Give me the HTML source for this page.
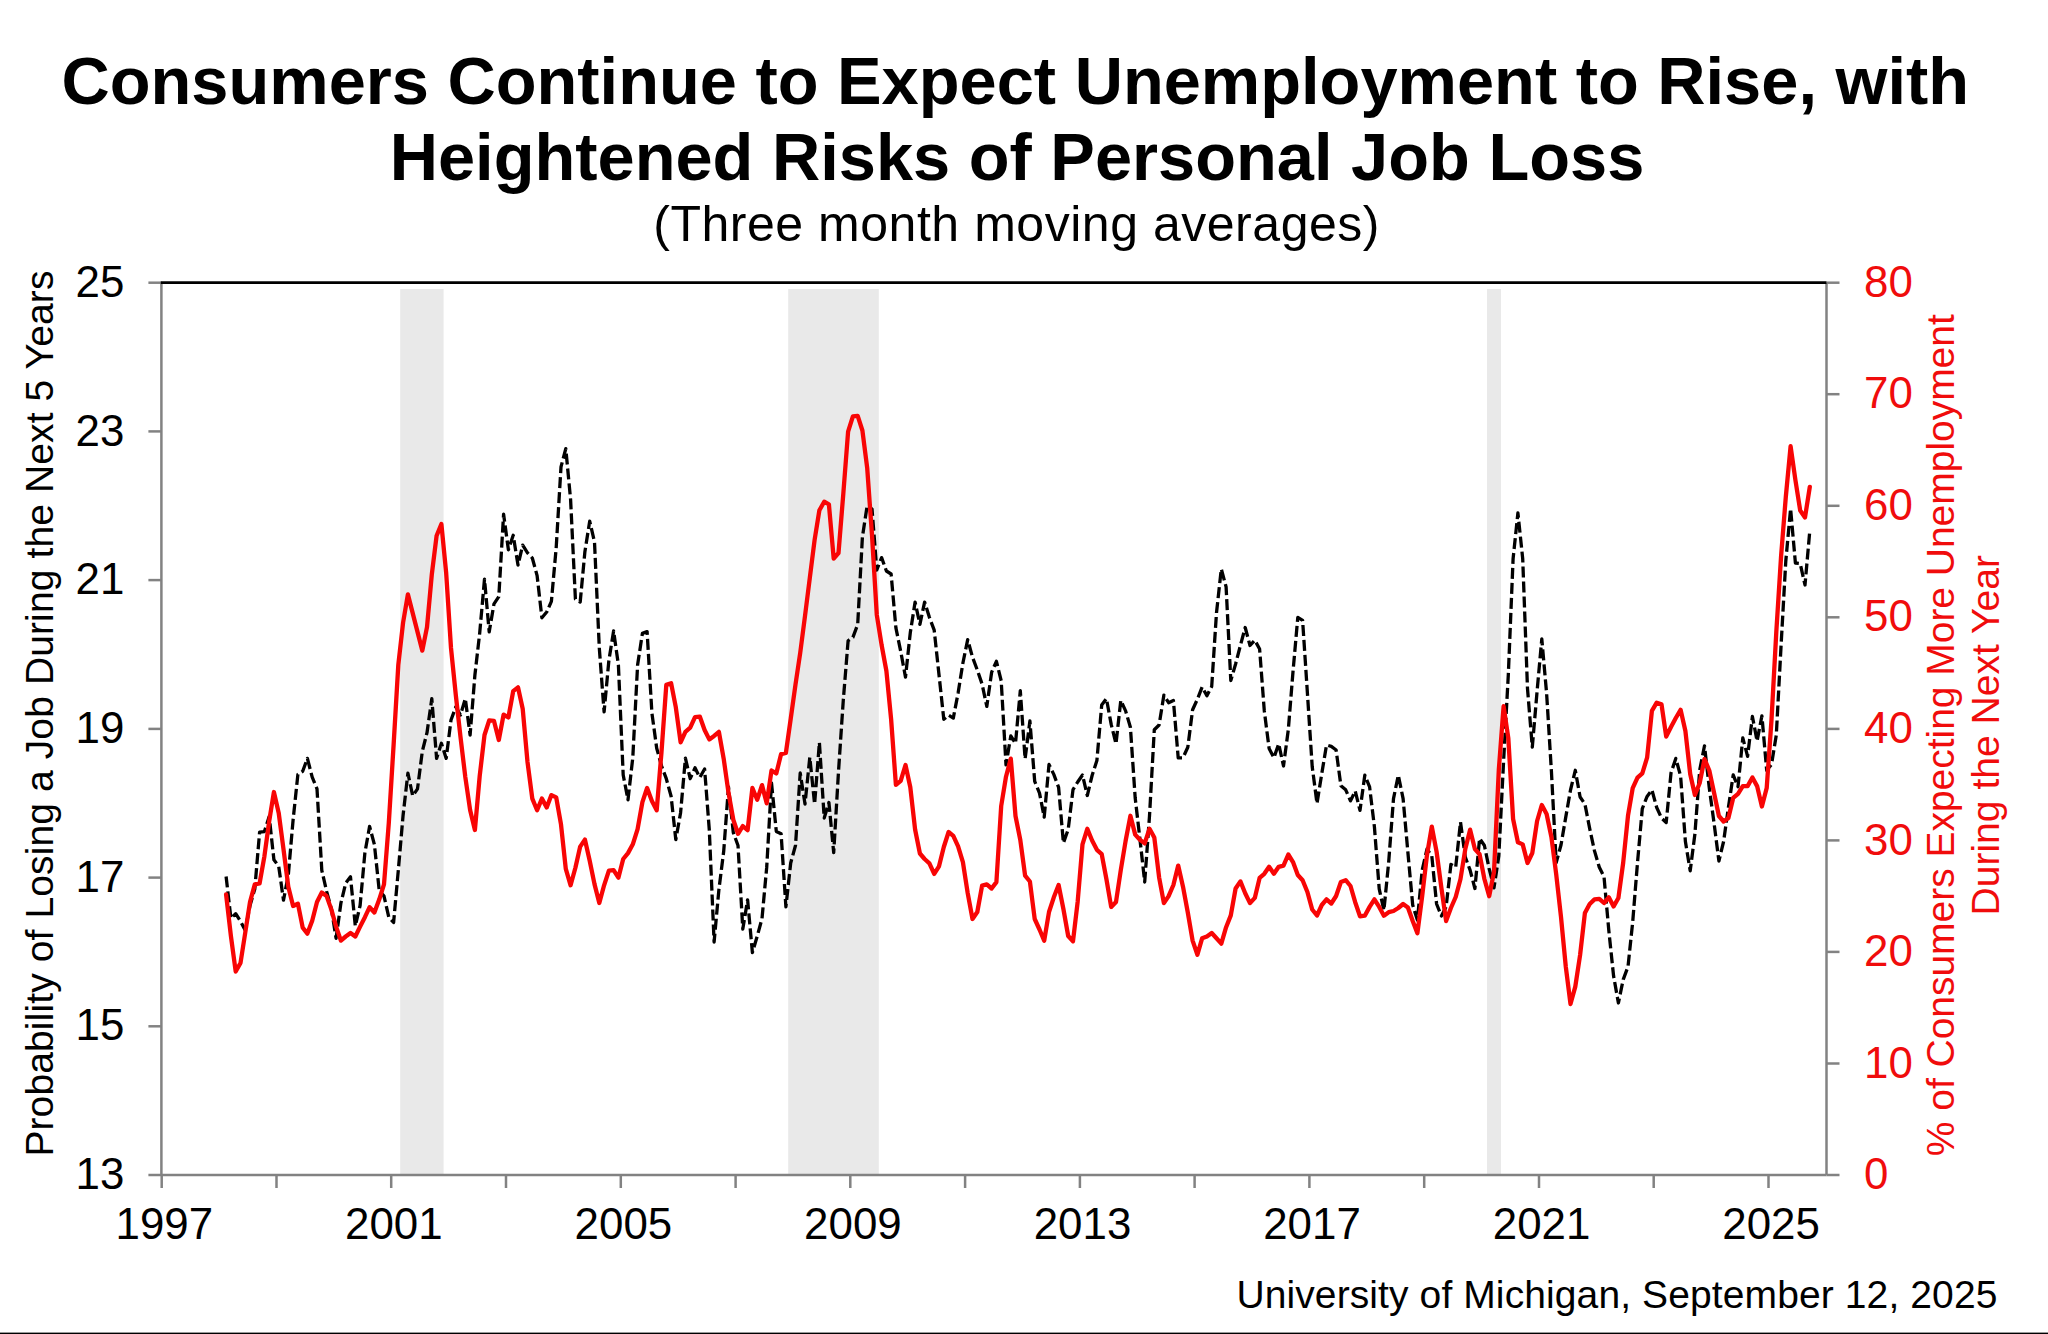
<!DOCTYPE html><html><head><meta charset="utf-8"><title>Consumers Continue to Expect Unemployment to Rise</title>
<style>html,body{margin:0;padding:0;background:#fff}body{width:2048px;height:1334px;overflow:hidden}svg{display:block}text{font-family:"Liberation Sans",Arial,Helvetica,sans-serif}</style></head><body>
<svg width="2048" height="1334" viewBox="0 0 2048 1334">
<rect width="2048" height="1334" fill="#fff"/>
<text font-size="66.8" fill="#000" font-weight="bold" text-anchor="middle" x="1015.3" y="103.5">Consumers Continue to Expect Unemployment to Rise, with</text>
<text font-size="66.8" fill="#000" font-weight="bold" text-anchor="middle" x="1017.0" y="180.0">Heightened Risks of Personal Job Loss</text>
<text font-size="50" fill="#000" textLength="726.3" lengthAdjust="spacing" x="653.2" y="240.8">(Three month moving averages)</text>
<rect x="400.2" y="289" width="43.4" height="885.0" fill="#e9e9e9"/>
<rect x="788.2" y="289" width="90.6" height="885.0" fill="#e9e9e9"/>
<rect x="1487.0" y="289" width="14.0" height="885.0" fill="#e9e9e9"/>
<g stroke="#828282" stroke-width="2.5" fill="none">
<path d="M161.4 282.7 V1175.0"/>
<path d="M1826.5 282.7 V1175.0"/>
<path d="M161.4 1175.0 H1826.5"/>
<path d="M148.4 1175.0 H161.4"/>
<path d="M148.4 1026.3 H161.4"/>
<path d="M148.4 877.6 H161.4"/>
<path d="M148.4 728.9 H161.4"/>
<path d="M148.4 580.1 H161.4"/>
<path d="M148.4 431.4 H161.4"/>
<path d="M148.4 282.7 H161.4"/>
<path d="M1826.5 1175.0 H1839.5"/>
<path d="M1826.5 1063.5 H1839.5"/>
<path d="M1826.5 951.9 H1839.5"/>
<path d="M1826.5 840.4 H1839.5"/>
<path d="M1826.5 728.9 H1839.5"/>
<path d="M1826.5 617.3 H1839.5"/>
<path d="M1826.5 505.8 H1839.5"/>
<path d="M1826.5 394.2 H1839.5"/>
<path d="M1826.5 282.7 H1839.5"/>
<path d="M161.7 1175.0 V1188.0"/>
<path d="M276.5 1175.0 V1188.0"/>
<path d="M391.2 1175.0 V1188.0"/>
<path d="M506.0 1175.0 V1188.0"/>
<path d="M620.8 1175.0 V1188.0"/>
<path d="M735.6 1175.0 V1188.0"/>
<path d="M850.3 1175.0 V1188.0"/>
<path d="M965.1 1175.0 V1188.0"/>
<path d="M1079.9 1175.0 V1188.0"/>
<path d="M1194.6 1175.0 V1188.0"/>
<path d="M1309.4 1175.0 V1188.0"/>
<path d="M1424.2 1175.0 V1188.0"/>
<path d="M1539.0 1175.0 V1188.0"/>
<path d="M1653.7 1175.0 V1188.0"/>
<path d="M1768.5 1175.0 V1188.0"/>
</g>
<path d="M160.8 282.7 H1826.5" stroke="#000" stroke-width="2.8"/>
<text font-size="45" fill="#000" textLength="48.8" lengthAdjust="spacingAndGlyphs" x="75.5" y="1189.1">13</text>
<text font-size="45" fill="#000" textLength="48.8" lengthAdjust="spacingAndGlyphs" x="75.5" y="1040.4">15</text>
<text font-size="45" fill="#000" textLength="48.8" lengthAdjust="spacingAndGlyphs" x="75.5" y="891.7">17</text>
<text font-size="45" fill="#000" textLength="48.8" lengthAdjust="spacingAndGlyphs" x="75.5" y="743.0">19</text>
<text font-size="45" fill="#000" textLength="48.8" lengthAdjust="spacingAndGlyphs" x="75.5" y="594.2">21</text>
<text font-size="45" fill="#000" textLength="48.8" lengthAdjust="spacingAndGlyphs" x="75.5" y="445.5">23</text>
<text font-size="45" fill="#000" textLength="48.8" lengthAdjust="spacingAndGlyphs" x="75.5" y="296.8">25</text>
<text font-size="45" fill="#f00c0c" textLength="24.4" lengthAdjust="spacingAndGlyphs" x="1864.1" y="1189.1">0</text>
<text font-size="45" fill="#f00c0c" textLength="48.8" lengthAdjust="spacingAndGlyphs" x="1864.1" y="1077.6">10</text>
<text font-size="45" fill="#f00c0c" textLength="48.8" lengthAdjust="spacingAndGlyphs" x="1864.1" y="966.0">20</text>
<text font-size="45" fill="#f00c0c" textLength="48.8" lengthAdjust="spacingAndGlyphs" x="1864.1" y="854.5">30</text>
<text font-size="45" fill="#f00c0c" textLength="48.8" lengthAdjust="spacingAndGlyphs" x="1864.1" y="743.0">40</text>
<text font-size="45" fill="#f00c0c" textLength="48.8" lengthAdjust="spacingAndGlyphs" x="1864.1" y="631.4">50</text>
<text font-size="45" fill="#f00c0c" textLength="48.8" lengthAdjust="spacingAndGlyphs" x="1864.1" y="519.9">60</text>
<text font-size="45" fill="#f00c0c" textLength="48.8" lengthAdjust="spacingAndGlyphs" x="1864.1" y="408.3">70</text>
<text font-size="45" fill="#f00c0c" textLength="48.8" lengthAdjust="spacingAndGlyphs" x="1864.1" y="296.8">80</text>
<text font-size="45" fill="#000" textLength="97.6" lengthAdjust="spacingAndGlyphs" x="115.5" y="1239.4">1997</text>
<text font-size="45" fill="#000" textLength="97.6" lengthAdjust="spacingAndGlyphs" x="345.0" y="1239.4">2001</text>
<text font-size="45" fill="#000" textLength="97.6" lengthAdjust="spacingAndGlyphs" x="574.6" y="1239.4">2005</text>
<text font-size="45" fill="#000" textLength="97.6" lengthAdjust="spacingAndGlyphs" x="804.1" y="1239.4">2009</text>
<text font-size="45" fill="#000" textLength="97.6" lengthAdjust="spacingAndGlyphs" x="1033.7" y="1239.4">2013</text>
<text font-size="45" fill="#000" textLength="97.6" lengthAdjust="spacingAndGlyphs" x="1263.2" y="1239.4">2017</text>
<text font-size="45" fill="#000" textLength="97.6" lengthAdjust="spacingAndGlyphs" x="1492.8" y="1239.4">2021</text>
<text font-size="45" fill="#000" textLength="97.6" lengthAdjust="spacingAndGlyphs" x="1722.3" y="1239.4">2025</text>
<text font-size="39" fill="#000" textLength="886.0" lengthAdjust="spacing" transform="translate(52.7,1156.6) rotate(-90)">Probability of Losing a Job During the Next 5 Years</text>
<text font-size="39" fill="#f00c0c" textLength="842.0" lengthAdjust="spacing" transform="translate(1953.8,1156.2) rotate(-90)">% of Consumers Expecting More Unemployment</text>
<text font-size="39" fill="#f00c0c" textLength="360.5" lengthAdjust="spacing" transform="translate(1999.4,915.5) rotate(-90)">During the Next Year</text>
<text font-size="39" fill="#000" textLength="761.0" lengthAdjust="spacing" x="1236.4" y="1307.5">University of Michigan, September 12, 2025</text>
<path d="M226.1 876.5 L230.9 918.4 L235.7 913.7 L240.5 921.3 L245.2 930.1 L250.0 905.5 L254.8 889.0 L259.6 832.2 L264.4 831.6 L269.2 816.4 L273.9 859.8 L278.7 866.2 L283.5 900.2 L288.3 875.0 L293.1 819.9 L297.9 774.3 L302.7 771.3 L307.4 758.4 L312.2 777.2 L317.0 788.9 L321.8 870.3 L326.6 891.4 L331.4 909.0 L336.1 938.3 L340.9 903.1 L345.7 883.2 L350.5 876.8 L355.3 926.0 L360.1 905.5 L364.9 852.7 L369.6 826.4 L374.4 844.5 L379.2 890.2 L384.0 896.1 L388.8 917.2 L393.6 922.5 L398.3 870.3 L403.1 815.2 L407.9 773.1 L412.7 795.9 L417.5 788.9 L422.3 751.4 L427.0 732.7 L431.8 698.7 L436.6 758.4 L441.4 743.2 L446.2 758.4 L451.0 720.0 L455.8 706.9 L460.5 715.0 L465.3 698.7 L470.1 735.0 L474.9 675.0 L479.7 633.1 L484.5 579.1 L489.2 631.9 L494.0 603.8 L498.8 596.7 L503.6 514.2 L508.4 549.8 L513.2 535.2 L518.0 565.1 L522.7 545.2 L527.5 552.8 L532.3 558.0 L537.1 575.6 L541.9 617.8 L546.7 612.0 L551.4 601.4 L556.2 547.6 L561.0 466.9 L565.8 448.7 L570.6 499.7 L575.4 599.0 L580.2 602.0 L584.9 551.7 L589.7 521.2 L594.5 542.0 L599.3 648.0 L604.1 711.9 L608.9 660.3 L613.6 631.0 L618.4 665.0 L623.2 775.0 L628.0 799.8 L632.8 757.6 L637.6 665.0 L642.4 633.4 L647.1 631.6 L651.9 713.0 L656.7 748.2 L661.5 765.8 L666.3 778.7 L671.1 796.3 L675.8 839.6 L680.6 812.7 L685.4 758.2 L690.2 778.7 L695.0 767.8 L699.8 777.5 L704.6 769.0 L709.3 830.0 L714.1 942.0 L718.9 889.6 L723.7 851.3 L728.5 786.9 L733.3 832.6 L738.0 845.5 L742.8 929.1 L747.6 899.8 L752.4 952.6 L757.2 936.2 L762.0 918.6 L766.7 867.4 L771.5 783.0 L776.3 831.4 L781.1 833.8 L785.9 906.9 L790.7 863.0 L795.5 845.5 L800.2 773.0 L805.0 804.0 L809.8 757.4 L814.6 804.0 L819.4 742.5 L824.2 818.0 L828.9 802.5 L833.7 852.6 L838.5 771.5 L843.3 700.0 L848.1 640.8 L852.9 637.3 L857.7 624.4 L862.4 537.0 L867.2 505.5 L872.0 509.0 L876.8 570.0 L881.6 557.6 L886.4 571.0 L891.1 574.0 L895.9 627.9 L900.7 651.3 L905.5 677.1 L910.3 632.6 L915.1 602.1 L919.9 624.4 L924.6 602.1 L929.4 617.3 L934.2 630.2 L939.0 674.8 L943.8 719.3 L948.6 715.2 L953.3 718.1 L958.1 693.0 L962.9 663.0 L967.7 639.6 L972.5 657.2 L977.3 670.0 L982.1 684.1 L986.8 706.4 L991.6 672.4 L996.4 661.3 L1001.2 680.8 L1006.0 764.8 L1010.8 736.0 L1015.5 743.3 L1020.3 690.7 L1025.1 758.9 L1029.9 720.9 L1034.7 781.4 L1039.5 793.1 L1044.2 817.1 L1049.0 764.5 L1053.8 774.4 L1058.6 787.3 L1063.4 843.0 L1068.2 829.5 L1073.0 789.6 L1077.7 782.0 L1082.5 775.0 L1087.3 795.5 L1092.1 775.5 L1096.9 760.5 L1101.7 705.0 L1106.4 698.6 L1111.2 724.4 L1116.0 743.8 L1120.8 700.4 L1125.6 710.9 L1130.4 727.3 L1135.2 798.0 L1139.9 838.7 L1144.7 882.0 L1149.5 816.0 L1154.3 729.7 L1159.1 725.0 L1163.9 695.1 L1168.6 702.7 L1173.4 700.4 L1178.2 757.8 L1183.0 757.8 L1187.8 747.3 L1192.6 709.8 L1197.4 699.2 L1202.1 687.0 L1206.9 695.7 L1211.7 686.5 L1216.5 612.7 L1221.3 569.0 L1226.1 586.9 L1230.8 680.5 L1235.6 664.0 L1240.4 645.5 L1245.2 627.5 L1250.0 645.5 L1254.8 640.2 L1259.6 649.0 L1264.3 710.9 L1269.1 748.4 L1273.9 757.8 L1278.7 743.8 L1283.5 766.0 L1288.3 729.7 L1293.0 671.7 L1297.8 617.3 L1302.6 620.3 L1307.4 693.0 L1312.2 766.5 L1317.0 803.4 L1321.8 773.5 L1326.5 745.0 L1331.3 746.4 L1336.1 750.0 L1340.9 785.7 L1345.7 789.8 L1350.5 800.9 L1355.2 791.0 L1360.0 810.3 L1364.8 775.2 L1369.6 786.9 L1374.4 826.7 L1379.2 888.8 L1383.9 910.4 L1388.7 861.9 L1393.5 798.6 L1398.3 775.2 L1403.1 798.6 L1407.9 852.5 L1412.7 905.0 L1417.4 920.0 L1422.2 870.0 L1427.0 849.0 L1431.8 856.0 L1436.6 904.0 L1441.4 916.0 L1446.1 907.0 L1450.9 864.5 L1455.7 867.2 L1460.5 822.0 L1465.3 857.2 L1470.1 870.1 L1474.9 888.5 L1479.6 838.4 L1484.4 845.5 L1489.2 868.9 L1494.0 887.8 L1498.8 856.0 L1503.6 761.0 L1508.3 675.0 L1513.1 558.6 L1517.9 513.0 L1522.7 558.6 L1527.5 688.6 L1532.3 747.2 L1537.1 691.0 L1541.8 639.0 L1546.6 693.3 L1551.4 771.0 L1556.2 862.6 L1561.0 845.0 L1565.8 816.9 L1570.5 790.0 L1575.3 770.3 L1580.1 797.0 L1584.9 804.0 L1589.7 828.6 L1594.5 850.9 L1599.3 867.3 L1604.0 876.6 L1608.8 930.4 L1613.6 976.1 L1618.4 1003.0 L1623.2 979.6 L1628.0 966.7 L1632.7 922.0 L1637.5 862.6 L1642.3 808.7 L1647.1 796.4 L1651.9 789.9 L1656.7 807.5 L1661.5 818.0 L1666.2 822.5 L1671.0 773.0 L1675.8 758.4 L1680.6 776.0 L1685.4 841.6 L1690.2 870.8 L1694.9 834.0 L1699.7 770.2 L1704.5 745.8 L1709.3 788.0 L1714.1 823.5 L1718.9 861.0 L1723.6 841.5 L1728.4 807.5 L1733.2 775.0 L1738.0 786.7 L1742.8 738.0 L1747.6 756.3 L1752.4 716.5 L1757.1 741.0 L1761.9 715.8 L1766.7 770.3 L1771.5 764.5 L1776.3 735.0 L1781.1 645.0 L1785.8 561.0 L1790.6 508.8 L1795.4 563.0 L1800.2 563.5 L1805.0 585.0 L1809.8 530.7" fill="none" stroke="#000" stroke-width="3.3" stroke-dasharray="11 4" stroke-linejoin="round"/>
<path d="M226.1 894.5 L230.9 936.0 L235.7 971.5 L240.5 963.0 L245.2 933.0 L250.0 902.0 L254.8 884.4 L259.6 883.4 L264.4 856.3 L269.2 821.1 L273.9 792.0 L278.7 812.9 L283.5 849.2 L288.3 886.7 L293.1 906.0 L297.9 903.7 L302.7 927.7 L307.4 933.6 L312.2 920.7 L317.0 902.0 L321.8 892.6 L326.6 896.1 L331.4 909.6 L336.1 926.6 L340.9 940.6 L345.7 936.5 L350.5 933.0 L355.3 936.5 L360.1 926.6 L364.9 917.2 L369.6 907.2 L374.4 912.5 L379.2 899.6 L384.0 884.4 L388.8 823.0 L393.6 745.0 L398.3 665.0 L403.1 622.5 L407.9 594.4 L412.7 613.1 L417.5 631.9 L422.3 650.6 L427.0 627.2 L431.8 574.5 L436.6 535.8 L441.4 524.1 L446.2 573.3 L451.0 648.0 L455.8 695.0 L460.5 737.0 L465.3 777.0 L470.1 810.0 L474.9 830.0 L479.7 776.0 L484.5 735.0 L489.2 720.4 L494.0 720.9 L498.8 740.0 L503.6 714.6 L508.4 717.5 L513.2 691.2 L518.0 687.3 L522.7 708.7 L527.5 762.0 L532.3 798.6 L537.1 810.3 L541.9 798.6 L546.7 807.4 L551.4 795.1 L556.2 797.4 L561.0 824.4 L565.8 868.9 L570.6 885.3 L575.4 867.7 L580.2 846.6 L584.9 839.6 L589.7 860.7 L594.5 884.1 L599.3 903.0 L604.1 885.3 L608.9 870.7 L613.6 870.1 L618.4 877.7 L623.2 859.0 L628.0 853.1 L632.8 844.3 L637.6 829.1 L642.4 802.1 L647.1 788.0 L651.9 800.9 L656.7 810.3 L661.5 752.0 L666.3 684.9 L671.1 683.2 L675.8 707.2 L680.6 742.3 L685.4 731.8 L690.2 727.7 L695.0 717.2 L699.8 716.6 L704.6 730.0 L709.3 739.4 L714.1 735.9 L718.9 731.8 L723.7 758.8 L728.5 792.7 L733.3 819.7 L738.0 833.8 L742.8 826.1 L747.6 830.2 L752.4 788.0 L757.2 799.8 L762.0 785.1 L766.7 803.3 L771.5 770.5 L776.3 773.4 L781.1 754.1 L785.9 752.9 L790.7 718.9 L795.5 684.5 L800.2 653.0 L805.0 616.0 L809.8 578.0 L814.6 540.0 L819.4 510.2 L824.2 501.7 L828.9 504.3 L833.7 558.5 L838.5 553.0 L843.3 493.8 L848.1 431.6 L852.9 416.4 L857.7 415.8 L862.4 430.5 L867.2 468.0 L872.0 535.0 L876.8 615.0 L881.6 645.0 L886.4 671.0 L891.1 719.0 L895.9 784.9 L900.7 780.8 L905.5 765.0 L910.3 787.3 L915.1 829.5 L919.9 853.5 L924.6 859.0 L929.4 863.3 L934.2 873.9 L939.0 866.3 L943.8 847.0 L948.6 832.0 L953.3 835.8 L958.1 846.3 L962.9 862.2 L967.7 893.2 L972.5 919.0 L977.3 912.0 L982.1 885.6 L986.8 884.4 L991.6 888.5 L996.4 882.1 L1001.2 806.0 L1006.0 776.7 L1010.8 758.6 L1015.5 816.0 L1020.3 840.0 L1025.1 875.6 L1029.9 881.5 L1034.7 919.0 L1039.5 929.5 L1044.2 940.7 L1049.0 912.0 L1053.8 897.3 L1058.6 885.0 L1063.4 909.0 L1068.2 936.0 L1073.0 941.3 L1077.7 901.4 L1082.5 844.3 L1087.3 828.8 L1092.1 840.5 L1096.9 849.8 L1101.7 854.1 L1106.4 879.0 L1111.2 907.0 L1116.0 902.0 L1120.8 870.0 L1125.6 841.0 L1130.4 815.8 L1135.2 834.6 L1139.9 839.8 L1144.7 843.4 L1149.5 828.7 L1154.3 837.5 L1159.1 877.3 L1163.9 903.1 L1168.6 896.1 L1173.4 885.0 L1178.2 865.6 L1183.0 886.7 L1187.8 912.5 L1192.6 940.6 L1197.4 954.7 L1202.1 938.3 L1206.9 936.5 L1211.7 933.0 L1216.5 938.3 L1221.3 943.6 L1226.1 927.2 L1230.8 915.4 L1235.6 888.5 L1240.4 881.4 L1245.2 893.2 L1250.0 903.1 L1254.8 897.9 L1259.6 877.9 L1264.3 873.8 L1269.1 866.8 L1273.9 873.8 L1278.7 866.8 L1283.5 865.6 L1288.3 854.5 L1293.0 862.1 L1297.8 875.0 L1302.6 880.3 L1307.4 892.0 L1312.2 909.5 L1317.0 915.5 L1321.8 905.0 L1326.5 899.4 L1331.3 903.5 L1336.1 896.0 L1340.9 882.0 L1345.7 880.2 L1350.5 886.0 L1355.2 902.2 L1360.0 916.3 L1364.8 915.7 L1369.6 906.9 L1374.4 899.3 L1379.2 906.9 L1383.9 915.7 L1388.7 912.2 L1393.5 911.0 L1398.3 908.0 L1403.1 904.0 L1407.9 907.5 L1412.7 921.0 L1417.4 933.2 L1422.2 896.0 L1427.0 854.8 L1431.8 826.7 L1436.6 851.9 L1441.4 888.0 L1446.1 921.0 L1450.9 908.0 L1455.7 897.0 L1460.5 879.0 L1465.3 849.0 L1470.1 829.7 L1474.9 849.0 L1479.6 854.3 L1484.4 879.0 L1489.2 896.2 L1494.0 872.0 L1498.8 770.0 L1503.6 706.2 L1508.3 738.0 L1513.1 819.0 L1517.9 842.3 L1522.7 844.4 L1527.5 863.0 L1532.3 853.0 L1537.1 821.0 L1541.8 805.0 L1546.6 814.0 L1551.4 837.0 L1556.2 874.3 L1561.0 917.0 L1565.8 966.7 L1570.5 1004.0 L1575.3 986.6 L1580.1 955.0 L1584.9 913.0 L1589.7 904.0 L1594.5 899.4 L1599.3 898.8 L1604.0 903.0 L1608.8 897.3 L1613.6 906.4 L1618.4 898.0 L1623.2 862.6 L1628.0 815.7 L1632.7 788.2 L1637.5 777.6 L1642.3 773.3 L1647.1 757.7 L1651.9 710.9 L1656.7 702.7 L1661.5 704.4 L1666.2 736.5 L1671.0 727.0 L1675.8 718.0 L1680.6 709.8 L1685.4 731.0 L1690.2 774.0 L1694.9 795.0 L1699.7 783.0 L1704.5 759.0 L1709.3 770.5 L1714.1 793.0 L1718.9 816.0 L1723.6 821.5 L1728.4 818.0 L1733.2 797.9 L1738.0 793.8 L1742.8 786.1 L1747.6 786.1 L1752.4 777.5 L1757.1 786.1 L1761.9 806.5 L1766.7 788.0 L1771.5 720.0 L1776.3 632.0 L1781.1 556.0 L1785.8 497.0 L1790.6 446.2 L1795.4 480.0 L1800.2 510.5 L1805.0 517.5 L1809.8 486.8" fill="none" stroke="#f80505" stroke-width="4.3" stroke-linejoin="round" stroke-linecap="round"/>
<rect x="0" y="1332.6" width="2048" height="1.4" fill="#000"/>
</svg></body></html>
